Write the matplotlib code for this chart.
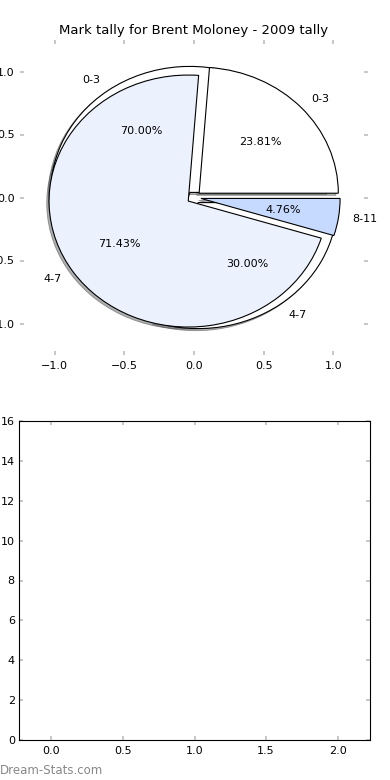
import matplotlib
matplotlib.use("Agg")
import matplotlib.pyplot as plt

# data
labels_2009 = ["0-3", "4-7", "8-11"]
fracs_2009 = [23.81, 71.43, 4.76]
labels_other = ["0-3", "4-7"]
fracs_other = [70.0, 30.0]
title = "Mark tally for Brent Moloney - 2009 tally"

white = "#ffffff"
pale = "#ebf1fd"
light_blue = "#c6d9fe"
tick_grey = "#bdbdbd"

plt.rcParams["font.family"] = "DejaVu Sans"
plt.rcParams["font.size"] = 8


def style_ticks(ax):
    ax.tick_params(which="both", direction="in", length=3, width=1.2,
                   color=tick_grey, labelsize=8, pad=4,
                   top=True, right=True)


fig = plt.figure(figsize=(3.9, 7.8), dpi=100)

# top: two pies drawn on the same axes
ax1 = fig.add_axes([20 / 390, 1 - 355 / 780, 348 / 390, 315 / 780])
wp = {"edgecolor": "black", "linewidth": 0.8}
shadow = {"ox": -0.012, "oy": -0.012, "shade": 0.6,
          "edgecolor": "#444444", "linewidth": 0.6}
ax1.pie(fracs_other, explode=[0.05, 0.05], labels=labels_other,
        colors=[white, white], autopct="%1.2f%%", shadow=shadow,
        wedgeprops=wp, frame=True, textprops={"fontsize": 8})
ax1.pie(fracs_2009, explode=[0.05, 0.05, 0.05], labels=labels_2009,
        colors=[white, pale, light_blue], autopct="%1.2f%%", shadow=shadow,
        wedgeprops=wp, frame=True, textprops={"fontsize": 8})
ax1.set_aspect("auto")
ax1.set_xlim(-1.25, 1.25)
ax1.set_ylim(-1.25, 1.25)
ax1.set_xticks([-1.0, -0.5, 0.0, 0.5, 1.0])
ax1.set_yticks([-1.0, -0.5, 0.0, 0.5, 1.0])
for s in ax1.spines.values():
    s.set_visible(False)
style_ticks(ax1)
ax1.set_title(title, fontsize=9.5, pad=4)

# bottom: empty bar axes
ax2 = fig.add_axes([19 / 390, 1 - 740 / 780, 351 / 390, 319 / 780])
ax2.set_xlim(-0.225, 2.225)
ax2.set_ylim(0, 16)
ax2.set_xticks([0.0, 0.5, 1.0, 1.5, 2.0])
ax2.set_yticks(range(0, 17, 2))
style_ticks(ax2)
ax2.tick_params(axis="y", pad=3)

fig.text(0.0, 1 - 770 / 780, "Dream-Stats.com", color="#888888",
         fontsize=8.5, ha="left", va="center")

fig.savefig("out.png", dpi=100)
